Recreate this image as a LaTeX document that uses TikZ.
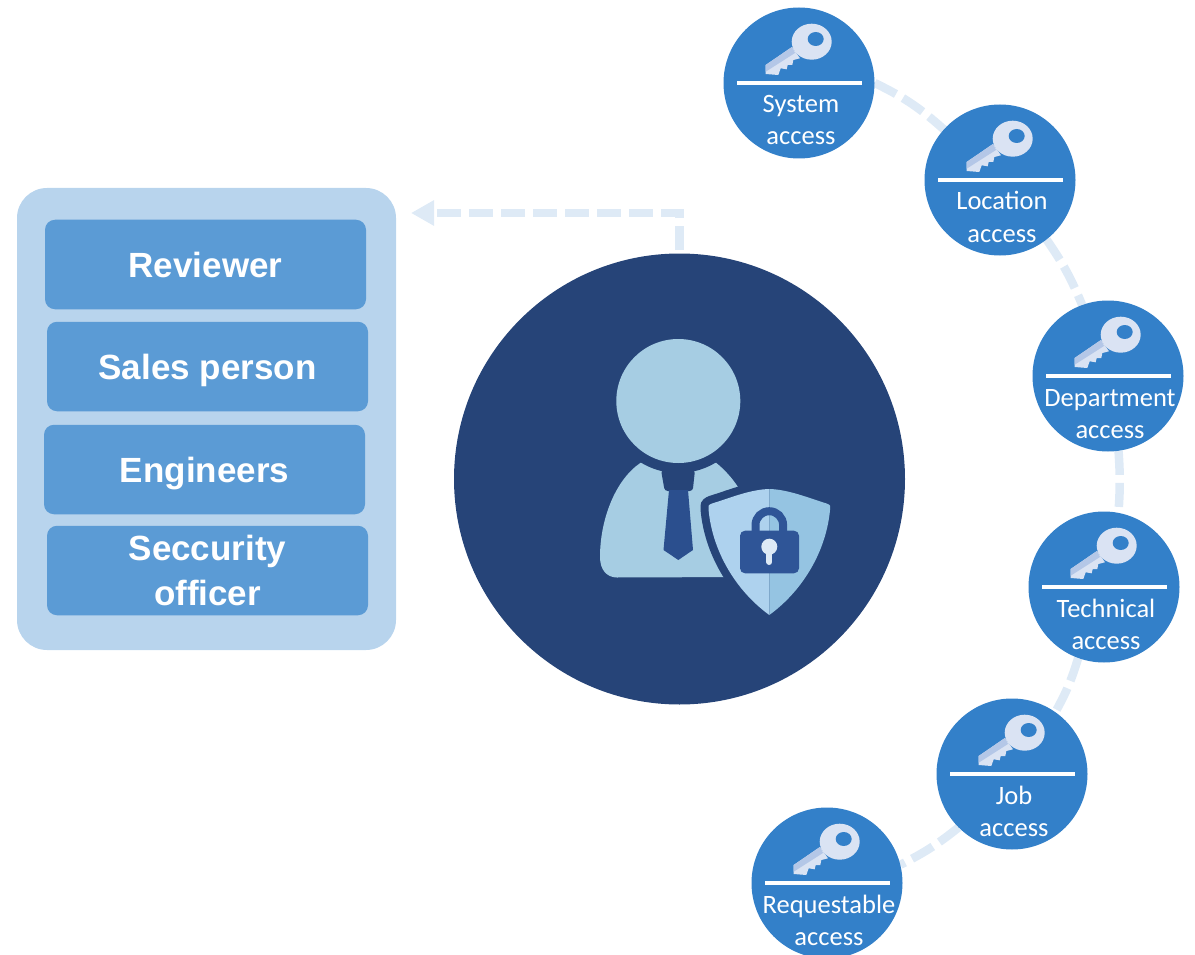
\documentclass[tikz,border=0pt]{standalone}
\usepackage{fontspec}
\setmainfont{Carlito}
\newfontfamily\labfont{Liberation Sans}
\usetikzlibrary{arrows.meta,backgrounds}
\definecolor{navy}{HTML}{264478}
\definecolor{panelbg}{HTML}{B8D4ED}
\definecolor{rolebg}{HTML}{5B9BD5}
\definecolor{keybg}{HTML}{3380C9}
\definecolor{dashc}{HTML}{DEEAF6}
\definecolor{skin}{HTML}{A6CDE3}
\definecolor{tie}{HTML}{2B4F8E}
\definecolor{shieldL}{HTML}{AED2EE}
\definecolor{shieldR}{HTML}{95C4E2}
\definecolor{lockc}{HTML}{2F5597}
\definecolor{keyL}{HTML}{DAE3F3}
\definecolor{keyD}{HTML}{B4C7E7}
\tikzset{
  keycirc/.style={circle,fill=keybg,minimum size=151pt,inner sep=0pt},
  keytext/.style={anchor=base,text=white,font=\fontsize{26.5}{30}\selectfont,inner sep=0pt},
  panelbox/.style={rounded corners=30pt,fill=panelbg,minimum width=379pt,minimum height=462pt,inner sep=0pt},
  rolebox/.style={rounded corners=10pt,fill=rolebg,minimum width=321pt,minimum height=89.5pt,inner sep=0pt,text=white,
    font=\labfont\bfseries\fontsize{35}{45}\selectfont},
  oneline/.style={text height=25pt,text depth=0pt},
  dashline/.style={draw=dashc,line width=8.5pt,dash pattern=on 24pt off 8pt}
}
\newcommand{\accessnode}[5]{%
  \node[keycirc] (#1) at (#2,#3) {};
  \begin{scope}[shift={(#2,#3)}]
    \fill[keyL] (-7,-36) -- (-33.3,-18) -- (-33.3,-9) -- (-20.7,-8) -- (-18.3,-14.7) -- (-12.3,-13.7)
      -- (-11.3,-18) -- (-6.7,-18) -- (-5.7,-23) -- (1,-24.7) -- cycle;
    \fill[keyD] (-7,-36) -- (-33.3,-18) -- (-33.3,-11.3) -- (-4,-30) -- cycle;
    \fill[keyL] (12.7,-41.3) ellipse [x radius=20pt,y radius=18pt];
    \fill[keybg] (16.7,-44) ellipse [x radius=8pt,y radius=7pt];
    \fill[white] (-62,-2) rectangle (63,2);
  \end{scope}
  \node[keytext] (#1-a) at (#2+2,#3+30) {#4};
  \node[keytext] (#1-b) at (#2+2,#3+62) {#5};
}
\newcommand{\shieldleft}{(769.3,489) .. controls (750,489.5) and (730,498) .. (712,503.5) .. controls (708,505) and (708,506) .. (708.5,509) .. controls (712,550) and (735,590) .. (769.3,615)}
\newcommand{\shieldright}{(769.3,615) .. controls (803.6,590) and (826.6,550) .. (830.1,509) .. controls (830.6,506) and (830.6,505) .. (826.6,503.5) .. controls (808.6,498) and (788.6,489.5) .. (769.3,489)}
\begin{document}
\begin{tikzpicture}[x=1pt,y=-1pt]
\useasboundingbox (0,0) rectangle (1195,955);
% left panel
\node[panelbox] (panel) at (206.5,419) {};
\node[rolebox,oneline] (reviewer) at (205.5,264.5) {Reviewer};
\node[rolebox,oneline] (sales) at (207.5,366.5) {Sales person};
\node[rolebox,oneline] (engineers) at (204.5,469.5) {Engineers};
\node[rolebox,align=center] (security) at (207.5,570.5) {Seccurity\\officer};
% central disc
\node[circle,fill=navy,minimum size=451pt,inner sep=0pt] (big) at (679.5,479) {};
% person
\fill[skin] (640.7,462.7) .. controls (615,480) and (600,520) .. (600,557)
  .. controls (600,570) and (607,577.5) .. (617,577.5) -- (745,577) -- (745,495) -- (738,487)
  .. controls (732,478) and (725,470) .. (716,462.7) -- cycle;
\fill[navy] (678.3,401) circle[radius=72pt];
\fill[skin] (678.3,401) circle[radius=62pt];
\fill[navy,rounded corners=3pt] (661,470) -- (695,470) -- (692.7,491) -- (664.7,491) -- cycle;
\fill[tie] (669,490) -- (688,490) -- (693,550) -- (678.3,560) -- (663.5,550) -- cycle;
% shield
\draw[navy,line width=16pt,line join=round,fill=navy] \shieldleft \shieldright -- cycle;
\fill[shieldL] \shieldleft -- cycle;
\fill[shieldR] \shieldright -- cycle;
% lock
\draw[lockc,line width=8pt] (755.5,535) -- (755.5,525) arc[start angle=180,end angle=0,radius=13.8pt] -- (783.1,535);
\fill[lockc,rounded corners=5pt] (740,530.7) rectangle (799,573.3);
\fill[dashc] (769.3,546.7) circle[radius=8pt];
\draw[dashc,line width=6pt,line cap=round] (769.3,548) -- (769.3,562);
% access circles
\accessnode{sys}{799}{83}{System}{access}
\accessnode{loc}{1000}{180}{Location}{access}
\accessnode{dep}{1108}{376}{Department}{access}
\accessnode{tec}{1104}{587}{Technical}{access}
\accessnode{job}{1012}{774}{Job}{access}
\accessnode{req}{827}{883}{Requestable}{access}
% connectors
\coordinate (tipend) at (411,213);
\begin{scope}[on background layer]
  \draw[dashline,dash phase=29pt,-{Triangle[length=23pt,width=24pt]},dashc] (big.north) |- (tipend);
  \draw[dashline] (sys.0) to[bend left=8] (loc.138);
  \draw[dashline] (loc.-52) to[bend left=6] (dep.110);
  \draw[dashline] (dep.-82) to[bend left=4] (tec.79);
  \draw[dashline] (tec.-110) to[bend left=6] (job.55);
  \draw[dashline] (job.-135) to[bend left=6] (req.14);
\end{scope}
\end{tikzpicture}
\end{document}
